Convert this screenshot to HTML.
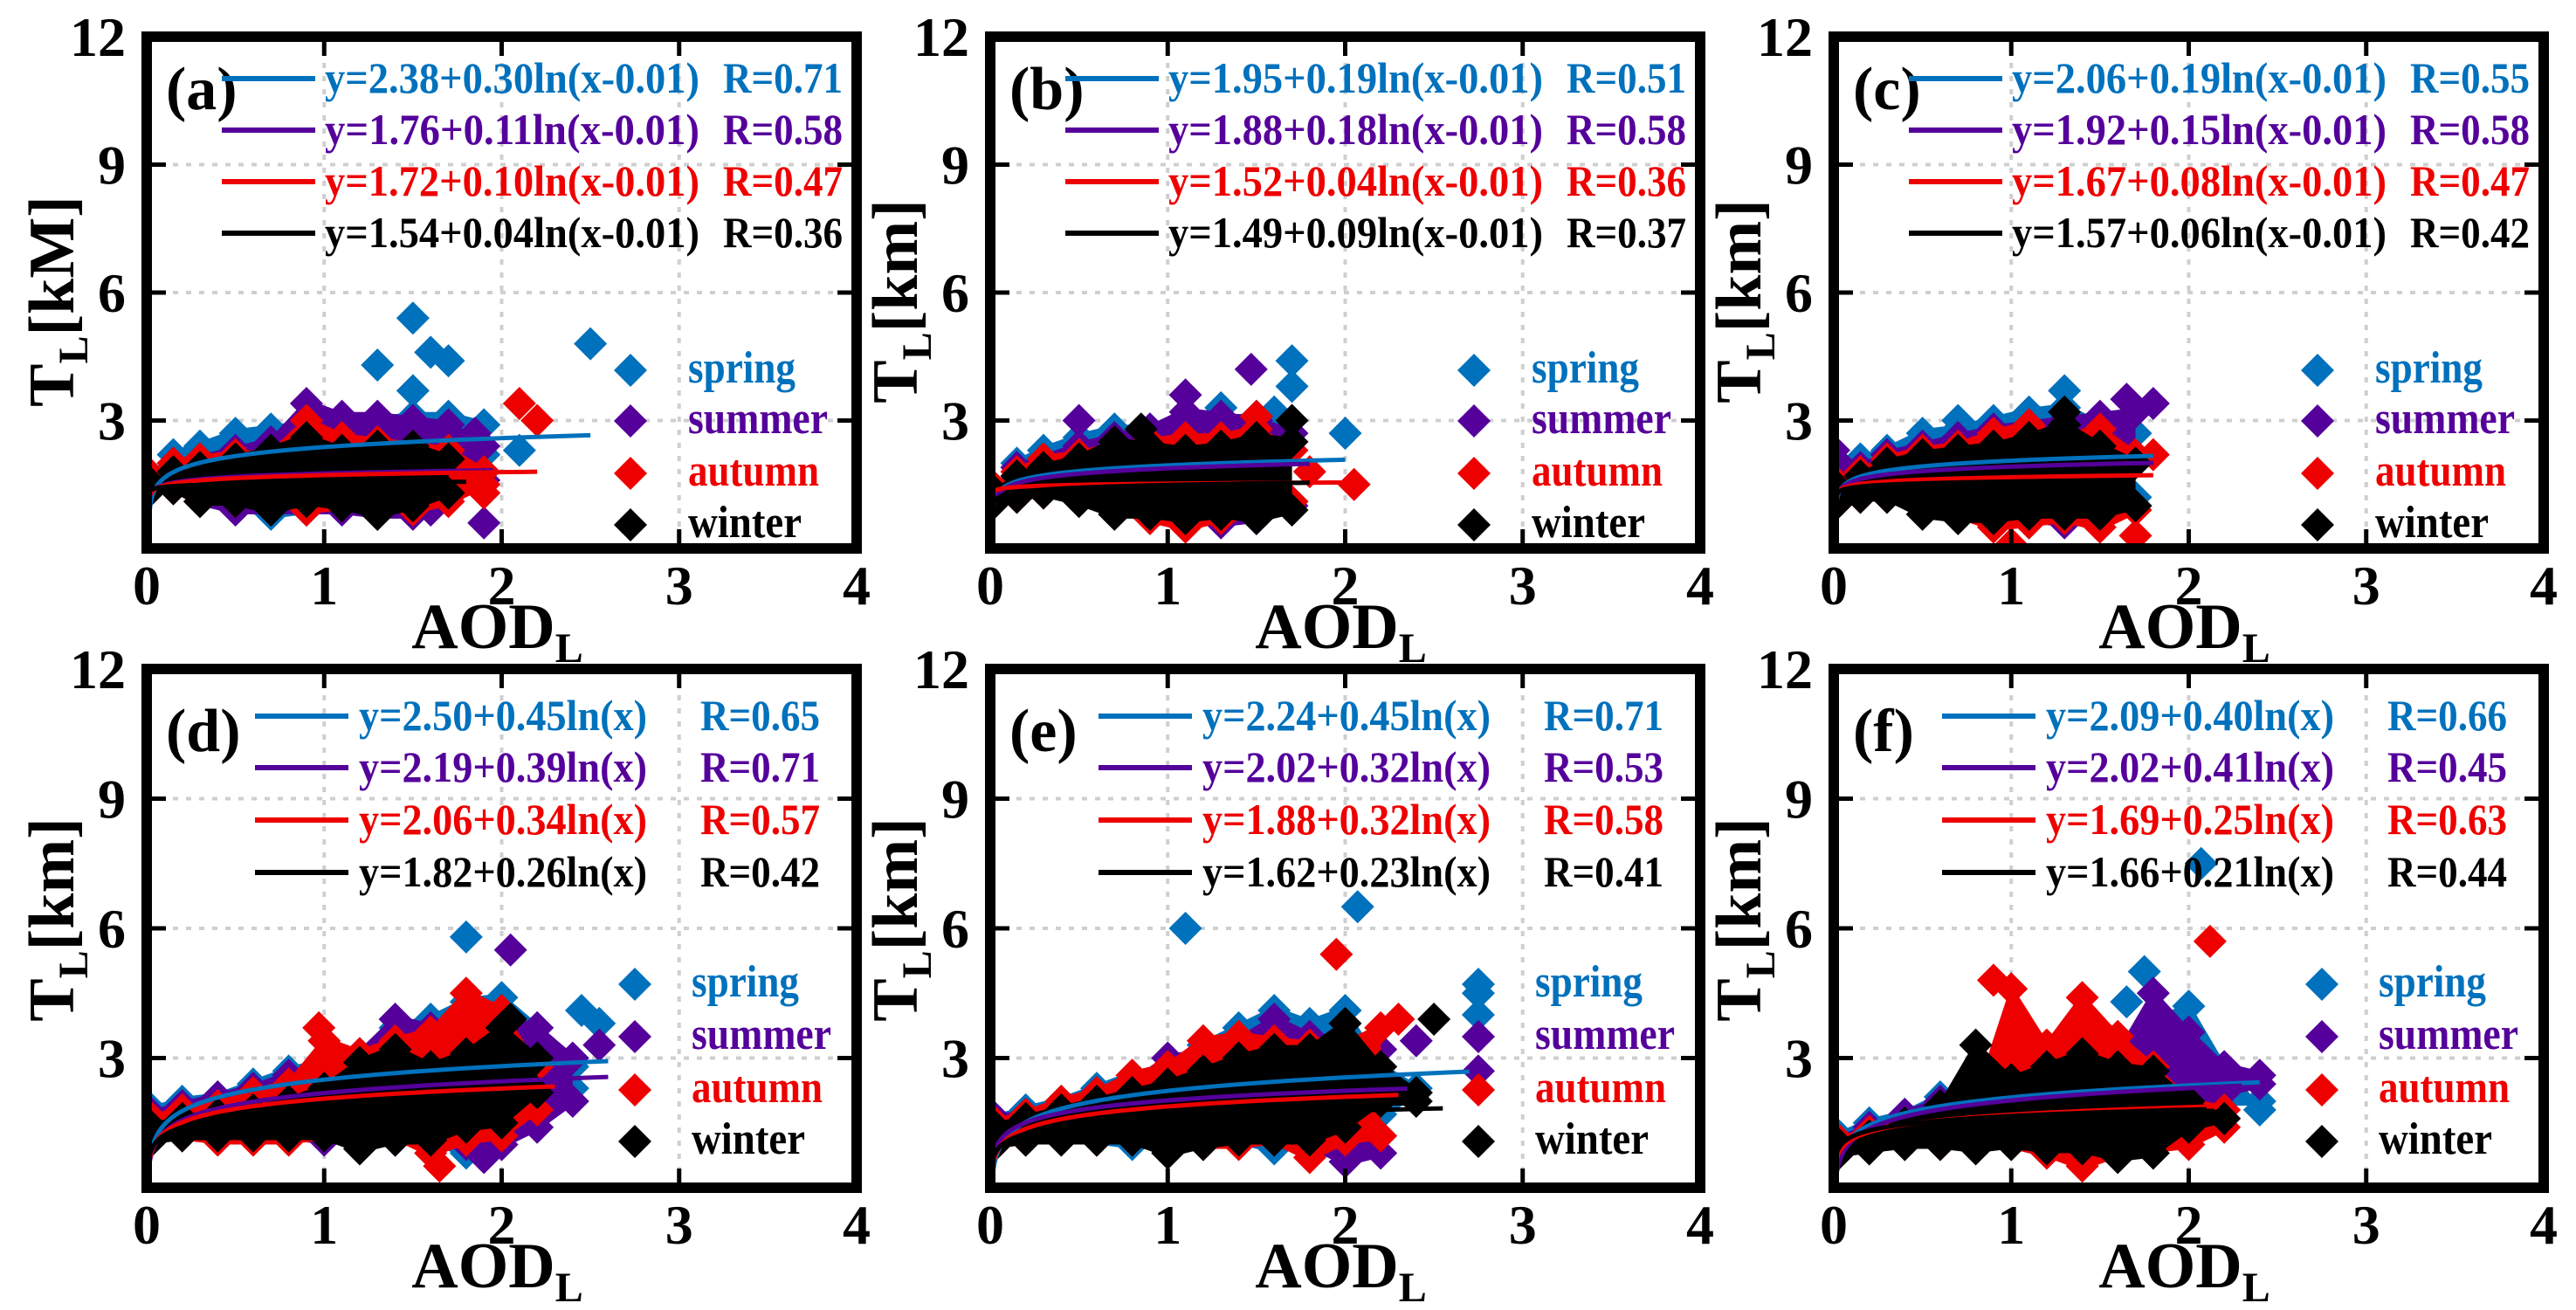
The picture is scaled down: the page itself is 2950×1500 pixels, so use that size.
<!DOCTYPE html>
<html><head><meta charset="utf-8"><style>
html,body{margin:0;padding:0;background:#fff;}
svg{display:block;}
svg text{font-family:"Liberation Serif","Times New Roman",serif;font-weight:bold;}
</style></head><body>
<svg id="fig" width="2950" height="1500" viewBox="0 0 2950 1500" xmlns="http://www.w3.org/2000/svg" font-family="Liberation Serif, serif" font-weight="bold"></svg>
<script>
// ---------- data ----------
const panelIds = ['a','b','c','d','e','f'];
const seasons = ['spring','summer','autumn','winter'];
const seasonColors = ['#0071bc','#55009b','#ee0000','#000000'];
const xTicks = [0,1,2,3,4];
const yTicks = [3,6,9,12];
const yTitleUnits = ['[kM]','[km]','[km]','[km]','[km]','[km]'];

const envX1 = [0.03,0.15,0.3,0.5,0.7,0.9,1.1,1.3,1.5,1.7,1.9];
const envX2 = [0.03,0.2,0.4,0.6,0.8,1.0,1.2,1.4,1.6,1.8,2.0,2.2,2.4];

const hi_a = [[1.9,2.4,2.6,2.9,3.0,3.1,3.1,3.2,3.3,3.3,3.1],[1.8,2.2,2.3,2.5,2.7,3.6,3.3,3.3,3.2,3.1,2.6],[1.9,2.2,2.3,2.4,2.4,3.2,2.8,2.7,2.6,2.5,2.0],[1.7,2.0,2.1,2.3,2.5,2.8,2.5,2.6,2.6,2.3]];
const lo_a = [[1.2,1.3,1.0,0.8,0.6,0.7,0.8,0.8,0.8,1.0,2.0],[1.2,1.2,0.9,0.7,0.7,0.7,0.7,0.6,0.6,1.0,1.4],[1.3,1.2,1.0,0.9,0.9,0.7,0.8,0.8,0.7,0.9,1.3],[1.2,1.2,0.9,0.9,0.7,0.9,0.8,0.6,0.8,1.1]];
const outX_a = [[1.3,1.5,1.6,1.7,2.5,1.5,2.1],[1.9,1.6,1.85],[2.1,2.2,1.9],[]];
const outY_a = [[4.3,5.4,4.6,4.4,4.8,3.7,2.3],[0.6,0.9,2.7],[3.4,3.0,1.3],[]];

const hi_b = [[1.6,2.2,2.5,2.8,3.0,3.0,3.1,3.2,3.3,3.2],[1.6,2.1,2.3,2.6,2.8,3.0,3.4,3.3,3.2,2.9],[1.6,2.0,2.3,2.4,2.6,2.7,2.8,2.8,3.0,2.5],[1.5,1.9,2.1,2.3,2.7,2.6,2.5,2.6,2.8,2.7]];
const lo_b = [[1.0,1.1,1.2,1.0,0.8,0.7,0.6,0.6,0.6,0.9],[1.0,1.0,1.1,1.0,0.7,0.6,0.5,0.4,0.5,0.8],[1.0,1.0,1.1,1.0,0.7,0.5,0.3,0.5,0.6,0.9],[0.9,1.0,1.1,0.9,0.6,0.6,0.5,0.6,0.5,0.7]];
const outX_b = [[1.7,1.7,1.3,1.6,2.0],[0.5,1.1,1.47],[1.5,2.05,1.8],[0.85,1.7]];
const outY_b = [[4.4,3.8,3.3,3.2,2.7],[3.0,3.6,4.2],[3.1,1.5,1.8],[2.8,3.0]];

const hi_c = [[1.8,2.3,2.5,2.9,3.0,3.2,3.4,3.5,3.1,2.9],[2.2,2.1,2.4,2.6,2.8,3.0,3.1,3.2,3.3,3.4],[1.7,2.0,2.3,2.5,2.6,2.9,3.1,2.8,3.0,2.4],[1.6,1.9,2.2,2.4,2.5,2.6,2.8,3.1,2.6,2.2]];
const lo_c = [[1.0,1.1,1.1,0.9,0.7,0.6,0.5,0.5,0.6,1.0],[1.0,1.0,1.0,0.8,0.6,0.5,0.5,0.4,0.5,0.8],[0.9,1.0,1.0,0.8,0.6,0.3,0.4,0.5,0.3,0.7],[0.9,1.0,1.0,0.6,0.5,0.5,0.6,0.6,0.6,0.8]];
const outX_c = [[1.3,0.7],[1.65,1.8,0.0],[1.0,1.7,1.8],[1.3]];
const outY_c = [[3.7,3.0],[3.5,3.4,2.3],[0.1,0.3,2.2],[3.2]];

const hi_d = [[2.0,2.2,2.3,2.6,2.9,3.1,3.3,3.9,4.1,4.5,4.6,3.9,3.0],[1.9,2.1,2.3,2.5,2.8,3.0,3.3,4.1,3.9,4.2,4.1,3.9,3.2],[1.8,2.0,2.1,2.4,2.6,3.6,3.3,3.6,3.8,4.7,4.3,3.0],[1.6,1.8,1.9,2.0,2.2,2.5,3.1,3.4,3.0,3.3,3.9,3.2]];
const lo_d = [[1.0,1.2,1.1,1.1,1.0,1.0,0.9,0.9,0.9,0.6,0.8,1.6,2.1],[1.0,1.1,1.1,1.1,1.0,0.9,1.0,0.9,0.8,0.8,0.8,1.2,1.8],[1.0,1.0,0.9,0.9,0.9,1.0,0.8,1.0,0.6,0.9,1.0,1.6],[0.9,1.0,1.0,1.0,1.0,1.0,0.7,0.9,0.9,1.2,1.3,2.0]];
const outX_d = [[1.8,2.45,2.55],[2.05,2.55,1.9],[0.97,1.65],[2.05]];
const outY_d = [[5.8,4.1,3.8],[5.5,3.3,0.7],[3.7,0.5],[3.9]];

const hi_e = [[1.8,2.0,2.2,2.5,2.8,3.0,3.5,3.9,4.3,4.0,4.3,3.0,2.5],[1.8,1.9,2.1,2.4,2.6,3.2,3.3,3.6,4.1,3.7,3.6,3.4],[1.7,1.9,2.2,2.4,2.8,3.0,3.6,3.7,3.6,3.5,3.5,3.9],[1.6,1.8,2.0,2.2,2.4,2.6,2.9,3.2,3.4,3.4,4.0,3.0,2.4]];
const lo_e = [[0.8,0.9,1.0,0.9,0.8,0.9,0.8,0.9,0.7,0.9,1.2,1.5,2.0],[0.8,0.9,1.0,0.9,0.9,0.8,0.8,0.9,0.9,0.8,0.4,0.6],[0.8,0.9,1.0,0.9,0.9,0.7,0.8,0.8,0.9,0.5,0.9,1.0],[0.8,0.9,0.9,0.9,0.9,0.6,0.8,0.9,0.9,0.9,1.2,1.8,1.8]];
const outX_e = [[1.1,2.07,2.75,2.75],[2.75,2.4],[1.95,2.3],[2.5]];
const outY_e = [[6.0,6.5,4.5,4.0],[2.7,3.4],[5.4,3.9],[3.9]];

const hi_f = [[1.4,1.7,1.9,2.3,2.6,3.0,3.2,3.4,3.6,4.0,4.4,3.0,2.0],[1.3,1.6,1.9,2.2,2.4,2.6,2.9,3.2,3.3,4.7,3.8,3.0,2.8],[1.3,1.5,1.7,2.0,2.3,4.8,3.5,4.6,3.7,3.0,2.2,2.0],[1.2,1.4,1.7,2.1,3.5,2.7,3.0,3.3,3.0,2.9,2.2,1.8]];
const lo_f = [[0.7,0.8,0.8,0.9,0.9,0.8,0.6,0.7,0.8,0.8,1.4,1.8,1.8],[0.6,0.8,0.9,0.9,0.9,0.9,0.8,0.9,0.8,1.0,1.2,2.0,2.2],[0.6,0.7,0.8,0.8,0.8,0.8,0.6,0.3,0.6,0.7,0.8,1.2],[0.6,0.7,0.8,0.8,0.7,0.8,0.7,0.7,0.5,0.6,1.2,1.4]];
const outX_f = [[2.07,1.65,1.75],[],[2.12,0.9],[]];
const outY_f = [[7.5,4.3,5.0],[],[5.7,4.8],[]];

// fit coefficients y = a + b*ln(x - shift)
const fitA = [[2.38,1.76,1.72,1.54],[1.95,1.88,1.52,1.49],[2.06,1.92,1.67,1.57],[2.50,2.19,2.06,1.82],[2.24,2.02,1.88,1.62],[2.09,2.02,1.69,1.66]];
const fitB = [[0.30,0.11,0.10,0.04],[0.19,0.18,0.04,0.09],[0.19,0.15,0.08,0.06],[0.45,0.39,0.34,0.26],[0.45,0.32,0.32,0.23],[0.40,0.41,0.25,0.21]];
const fitXmax = [[2.5,1.95,2.2,1.8],[2.0,1.8,2.05,1.8],[1.8,1.8,1.8,1.7],[2.6,2.6,2.3,2.15],[2.7,2.35,2.3,2.55],[2.4,2.3,2.15,2.1]];
const fitR = [['0.71','0.58','0.47','0.36'],['0.51','0.58','0.36','0.37'],['0.55','0.58','0.47','0.42'],['0.65','0.71','0.57','0.42'],['0.71','0.53','0.58','0.41'],['0.66','0.45','0.63','0.44']];
const fitShift = [0.01,0.01,0.01,0,0,0];

const hiAll = [hi_a,hi_b,hi_c,hi_d,hi_e,hi_f];
const loAll = [lo_a,lo_b,lo_c,lo_d,lo_e,lo_f];
const outXAll = [outX_a,outX_b,outX_c,outX_d,outX_e,outX_f];
const outYAll = [outY_a,outY_b,outY_c,outY_d,outY_e,outY_f];

// ---------- drawing ----------
const NS = 'http://www.w3.org/2000/svg';
const svg = document.getElementById('fig');
const FONT = '"Liberation Serif", "Times New Roman", serif';
function mk(tag, attrs, parent){const e=document.createElementNS(NS,tag);for(const k in attrs)e.setAttribute(k,attrs[k]);
  if(tag==='text'){e.setAttribute('font-family',FONT);e.setAttribute('font-weight','bold');}
  (parent||svg).appendChild(e);return e;}
const lefts=[168,1134,2100], tops=[42,766], bottoms=[628,1360], W=813;
const f2=v=>v.toFixed(2);

panelIds.forEach((pid,pi)=>{
  const col=pi%3, row=Math.floor(pi/3);
  const L=lefts[col], R=L+W, T=tops[row], B=bottoms[row];
  const sx=v=>L+v*(R-L)/4, sy=v=>B-v*(B-T)/12;
  const g=mk('g',{});
  
  
  const clip=mk('clipPath',{id:'clip'+pid},g);
  mk('rect',{x:L,y:T,width:W,height:B-T},clip);
  // grid
  [1,2,3].forEach(t=>{const l=mk('line',{x1:sx(t),x2:sx(t),y1:T,y2:B,stroke:'#cfcfcf','stroke-width':4,'stroke-dasharray':'6 9'},g);
    });
  [3,6,9].forEach(t=>{const l=mk('line',{x1:L,x2:R,y1:sy(t),y2:sy(t),stroke:'#cfcfcf','stroke-width':4,'stroke-dasharray':'6 9'},g);
    });
  // data
  const dg=mk('g',{'clip-path':'url(#clip'+pid+')'},g);
  const ex = row===0?envX1:envX2;
  seasons.forEach((s,si)=>{
    const sg=mk('g',{fill:seasonColors[si]},dg);
    
    
    const hi=hiAll[pi][si], lo=loAll[pi][si];
    const n=hi.length;
    let pts=[];
    for(let i=0;i<n;i++)pts.push(sx(ex[i])+','+sy(hi[i]-0.1));
    for(let i=n-1;i>=0;i--)pts.push(sx(ex[i])+','+sy(lo[i]+0.1));
    const poly=mk('polygon',{points:pts.join(' ')},sg);
    
    
    const dia=(x,y,h)=>{const cx=sx(x),cy=sy(y);
      const d=mk('polygon',{points:`${cx},${cy-h} ${cx+h},${cy} ${cx},${cy+h} ${cx-h},${cy}`},sg);
      
      };
    for(let i=0;i<n;i++){dia(ex[i],hi[i]-0.2,19);dia(ex[i],lo[i]+0.2,19);}
    outXAll[pi][si].forEach((x,k)=>dia(x,outYAll[pi][si][k],19));
  });
  // fits
  seasons.forEach((s,si)=>{
    const a=fitA[pi][si], b=fitB[pi][si], xm=fitXmax[pi][si], sh=fitShift[pi];
    let d='';const x0=sh+0.0015;
    for(let k=0;k<=160;k++){const x=x0*Math.pow(xm/x0,k/160);const y=Math.max(0.05,a+b*Math.log(x-sh));d+=(k?'L':'M')+f2(sx(x))+' '+f2(sy(y));}
    const p=mk('path',{d:d,fill:'none',stroke:seasonColors[si],'stroke-width':5},dg);
    
    
  });
  // frame
  const fr=mk('rect',{x:L,y:T,width:W,height:B-T,fill:'none',stroke:'#000','stroke-width':12},g);
  
  [1,2,3].forEach(t=>{mk('line',{x1:sx(t),x2:sx(t),y1:B,y2:B-22,stroke:'#000','stroke-width':5},g);mk('line',{x1:sx(t),x2:sx(t),y1:T,y2:T+22,stroke:'#000','stroke-width':5},g);});
  [3,6,9].forEach(t=>{mk('line',{x1:L,x2:L+22,y1:sy(t),y2:sy(t),stroke:'#000','stroke-width':5},g);mk('line',{x1:R,x2:R-22,y1:sy(t),y2:sy(t),stroke:'#000','stroke-width':5},g);});
  // tick labels
  xTicks.forEach(t=>{const e=mk('text',{x:sx(t),y:B+64,'font-size':64,'text-anchor':'middle'},g);e.textContent=t;
    });
  yTicks.forEach(t=>{const e=mk('text',{x:L-24,y:sy(t)+22,'font-size':64,'text-anchor':'end'},g);e.textContent=t;
    });
  // axis titles
  const xt=mk('text',{x:sx(2)-5,y:B+114,'font-size':74,'text-anchor':'middle'},g);
  
  xt.innerHTML='AOD<tspan font-size="48" dy="16">L</tspan>';
  const ycx=L-108, ycy=(T+B)/2+(row===0?10:-10);
  const yt=mk('text',{x:ycx,y:ycy,'font-size':74,'text-anchor':'middle',transform:`rotate(-90 ${ycx} ${ycy}) translate(0 24)`},g);
  
  yt.innerHTML='T<tspan font-size="48" dy="16">L</tspan><tspan dy="-16">'+yTitleUnits[pi]+'</tspan>';
  // panel label
  const pl=mk('text',{x:L+22,y:(row===0?103:838)+22,'font-size':70},g);
  pl.textContent='('+pid+')';
  
  // fit legend
  const ly = row===0?[90,149,208,267]:[820,879,939,999];
  const lx1=row===0?L+86:L+124, lx2=row===0?L+193:L+231, tx=row===0?L+204:L+243, rx=row===0?L+660:L+634;
  const eqLen=row===0?429:330;
  seasons.forEach((s,si)=>{
    const lg=mk('g',{},g);
    
    mk('line',{x1:lx1,x2:lx2,y1:ly[si],y2:ly[si],stroke:seasonColors[si],'stroke-width':6},lg);
    const a=fitA[pi][si].toFixed(2), b=fitB[pi][si].toFixed(2);
    const eq='y='+a+'+'+b+(row===0?'ln(x-0.01)':'ln(x)');
    const t=mk('text',{x:tx,y:ly[si]+16,'font-size':50,fill:seasonColors[si],textLength:eqLen,lengthAdjust:'spacingAndGlyphs'},lg);t.textContent=eq;
    const r=mk('text',{x:rx,y:ly[si]+16,'font-size':50,fill:seasonColors[si],textLength:137,lengthAdjust:'spacingAndGlyphs'},lg);r.textContent='R='+fitR[pi][si];
  });
  // season legend
  const sy2 = row===0?[424,482,542,601]:[1127,1187,1248,1307];
  const mx=row===0?L+554:L+559, stx=row===0?L+620:L+624;
  const sLen=[123,160,150,130];
  seasons.forEach((s,si)=>{
    const lg=mk('g',{fill:seasonColors[si]},g);
    
    const cy=sy2[si],h=19;
    mk('polygon',{points:`${mx},${cy-h} ${mx+h},${cy} ${mx},${cy+h} ${mx-h},${cy}`},lg);
    const t=mk('text',{x:stx,y:cy+14,'font-size':52,textLength:sLen[si],lengthAdjust:'spacingAndGlyphs'},lg);t.textContent=s;
  });
});
</script>
</body></html>
